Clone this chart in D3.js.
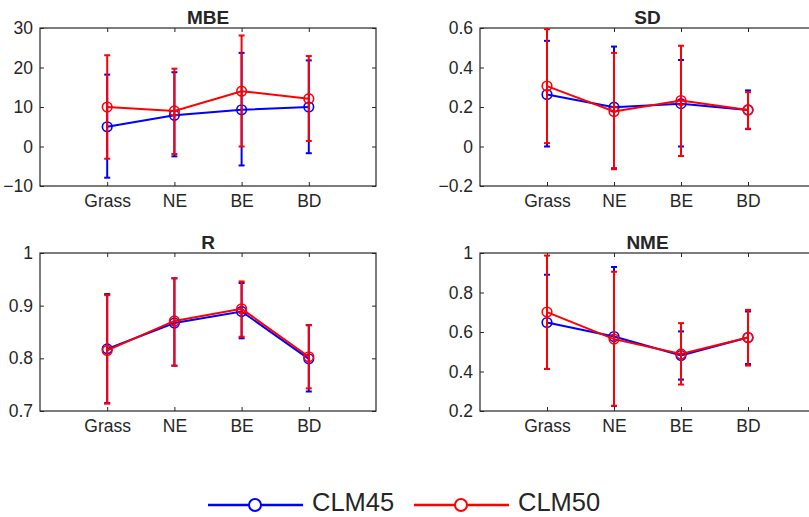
<!DOCTYPE html>
<html>
<head>
<meta charset="utf-8">
<script src="https://cdn.jsdelivr.net/npm/d3@7"></script>
<style>
  html, body { margin: 0; padding: 0; background: #fff; }
  svg { display: block; }
  text { font-family: "Liberation Sans", Arial, Helvetica, sans-serif; fill: #262626; }
</style>
</head>
<body>
<script>
// Plant functional types on the x axis
const categories = ["Grass", "NE", "BE", "BD"];
const seriesNames = ["CLM45", "CLM50"];
const seriesColors = ["#0000ff", "#ff0000"];

// MBE: mean, lower bound, upper bound
const mbeCLM45 = [5.0, 7.9, 9.3, 10.0];
const mbeCLM45Lo = [-7.9, -2.5, -4.8, -1.7];
const mbeCLM45Hi = [18.2, 18.8, 23.7, 21.8];
const mbeCLM50 = [10.0, 9.0, 14.0, 12.1];
const mbeCLM50Lo = [-3.1, -1.9, 0.0, 1.4];
const mbeCLM50Hi = [23.1, 19.7, 28.1, 22.9];

// SD
const sdCLM45 = [0.263, 0.199, 0.217, 0.185];
const sdCLM45Lo = [0.0, -0.11, 0.0, 0.088];
const sdCLM45Hi = [0.535, 0.506, 0.438, 0.284];
const sdCLM50 = [0.306, 0.177, 0.233, 0.185];
const sdCLM50Lo = [0.017, -0.115, -0.048, 0.09];
const sdCLM50Hi = [0.594, 0.474, 0.51, 0.275];

// R
const rCLM45 = [0.818, 0.867, 0.889, 0.799];
const rCLM45Lo = [0.715, 0.786, 0.838, 0.737];
const rCLM45Hi = [0.922, 0.952, 0.943, 0.863];
const rCLM50 = [0.815, 0.871, 0.894, 0.803];
const rCLM50Lo = [0.714, 0.786, 0.841, 0.743];
const rCLM50Hi = [0.920, 0.952, 0.946, 0.863];

// NME
const nmeCLM45 = [0.648, 0.577, 0.481, 0.572];
const nmeCLM45Lo = [0.413, 0.226, 0.359, 0.438];
const nmeCLM45Hi = [0.89, 0.929, 0.603, 0.704];
const nmeCLM50 = [0.701, 0.564, 0.489, 0.572];
const nmeCLM50Lo = [0.413, 0.226, 0.334, 0.43];
const nmeCLM50Hi = [0.987, 0.905, 0.645, 0.712];

// Axis ranges and tick labels
const mbeTicks = [-10, 0, 10, 20, 30];
const sdTicks = [-0.2, 0, 0.2, 0.4, 0.6];
const rTicks = [0.7, 0.8, 0.9, 1];
const nmeTicks = [0.2, 0.4, 0.6, 0.8, 1];
const shortNum = d => (d === 0 || d === 1) ? String(d) : d3.format(".1f")(d);
const tickFormat = { MBE: d3.format("d"), SD: shortNum, R: shortNum, NME: shortNum };

const panels = [
  { title: "MBE", ticks: mbeTicks, box: [40, 376, 28, 186],
    series: [[mbeCLM45, mbeCLM45Lo, mbeCLM45Hi], [mbeCLM50, mbeCLM50Lo, mbeCLM50Hi]] },
  { title: "SD", ticks: sdTicks, box: [480, 815, 28, 186],
    series: [[sdCLM45, sdCLM45Lo, sdCLM45Hi], [sdCLM50, sdCLM50Lo, sdCLM50Hi]] },
  { title: "R", ticks: rTicks, box: [40, 376, 253, 411],
    series: [[rCLM45, rCLM45Lo, rCLM45Hi], [rCLM50, rCLM50Lo, rCLM50Hi]] },
  { title: "NME", ticks: nmeTicks, box: [480, 815, 253, 411],
    series: [[nmeCLM45, nmeCLM45Lo, nmeCLM45Hi], [nmeCLM50, nmeCLM50Lo, nmeCLM50Hi]] }
];

const W = 809, H = 517;
const svg = d3.select("body").append("svg").attr("width", W).attr("height", H);
const axisColor = "#262626";

panels.forEach(p => {
  const [x0, x1, y0, y1] = p.box;
  const x = d3.scaleLinear().domain([0, categories.length + 1]).range([x0, x1]);
  const y = d3.scaleLinear().domain(d3.extent(p.ticks)).range([y1, y0]);
  const g = svg.append("g");
  const fmt = tickFormat[p.title];

  // Left axis with labels, inward ticks
  const yAxis = g.append("g").attr("transform", `translate(${x0},0)`)
    .call(d3.axisLeft(y).tickValues(p.ticks).tickFormat(fmt).tickSizeInner(-4).tickSizeOuter(0).tickPadding(7));
  yAxis.selectAll("text").style("font-size", "17.5px").attr("fill", axisColor);
  // Right axis: ticks only
  g.append("g").attr("transform", `translate(${x1},0)`)
    .call(d3.axisRight(y).tickValues(p.ticks).tickFormat("").tickSizeInner(-4).tickSizeOuter(0));
  // Bottom axis with category labels
  const xAxis = g.append("g").attr("transform", `translate(0,${y1})`)
    .call(d3.axisBottom(x).tickValues(d3.range(1, categories.length + 1))
      .tickFormat(i => categories[i - 1]).tickSizeInner(-4).tickSizeOuter(0).tickPadding(9));
  xAxis.selectAll("text").style("font-size", "17.5px").attr("fill", axisColor);
  // Top axis: ticks only
  g.append("g").attr("transform", `translate(0,${y0})`)
    .call(d3.axisTop(x).tickValues(d3.range(1, categories.length + 1)).tickFormat("").tickSizeInner(-4).tickSizeOuter(0));
  g.selectAll(".domain").remove();
  g.selectAll(".tick line").attr("stroke", axisColor).attr("stroke-width", 1);

  // Box outline
  g.append("rect").attr("x", x0).attr("y", y0).attr("width", x1 - x0).attr("height", y1 - y0)
    .attr("fill", "none").attr("stroke", axisColor).attr("stroke-width", 1.2);

  // Title
  g.append("text").attr("x", (x0 + x1) / 2).attr("y", y0 - 4)
    .attr("text-anchor", "middle").style("font-size", "19px").style("font-weight", "bold")
    .attr("fill", "#000").text(p.title);

  // Series: error bars, connecting line, open circle markers
  p.series.forEach((s, si) => {
    const [mean, lo, hi] = s;
    const color = seriesColors[si];
    const sg = g.append("g");
    categories.forEach((c, i) => {
      const cx = x(i + 1);
      sg.append("line").attr("x1", cx).attr("x2", cx).attr("y1", y(lo[i])).attr("y2", y(hi[i]))
        .attr("stroke", color).attr("stroke-width", 2);
      [lo[i], hi[i]].forEach(v => {
        sg.append("line").attr("x1", cx - 3).attr("x2", cx + 3).attr("y1", y(v)).attr("y2", y(v))
          .attr("stroke", color).attr("stroke-width", 2);
      });
    });
    sg.append("path").datum(mean)
      .attr("d", d3.line().x((d, i) => x(i + 1)).y(d => y(d)))
      .attr("fill", "none").attr("stroke", color).attr("stroke-width", 2);
    sg.selectAll("circle").data(mean).join("circle")
      .attr("cx", (d, i) => x(i + 1)).attr("cy", d => y(d)).attr("r", 4.8)
      .attr("fill", "none").attr("stroke", color).attr("stroke-width", 1.6);
  });
});

// Legend
const legend = svg.append("g");
const legendItems = [{ x: 208, name: seriesNames[0], color: seriesColors[0] },
                     { x: 414, name: seriesNames[1], color: seriesColors[1] }];
legendItems.forEach(it => {
  legend.append("line").attr("x1", it.x).attr("x2", it.x + 95).attr("y1", 505).attr("y2", 505)
    .attr("stroke", it.color).attr("stroke-width", 2.5);
  legend.append("circle").attr("cx", it.x + 47).attr("cy", 505).attr("r", 6)
    .attr("fill", "#fff").attr("stroke", it.color).attr("stroke-width", 2);
  legend.append("text").attr("x", it.x + 104).attr("y", 511).style("font-size", "25.5px")
    .attr("fill", "#000").text(it.name);
});
</script>
</body>
</html>
